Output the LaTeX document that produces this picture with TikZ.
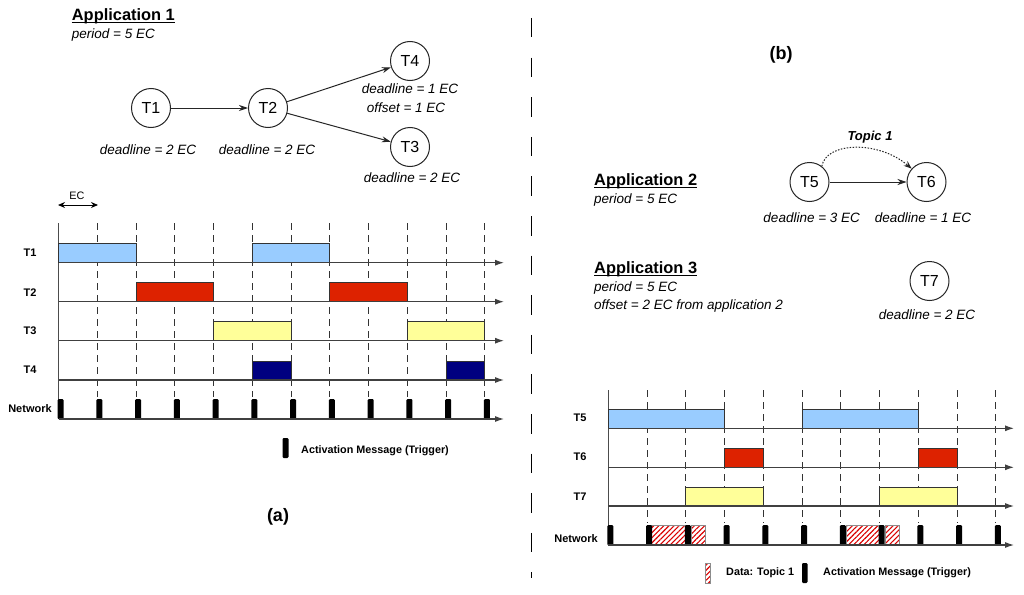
\documentclass[tikz,border=0pt]{standalone}
\usepackage{fontspec}
\setmainfont{Liberation Sans}
\usetikzlibrary{arrows.meta,patterns.meta}
\definecolor{cblue}{HTML}{99CCFF}
\definecolor{cred}{HTML}{DD2200}
\definecolor{cyel}{HTML}{FFFF99}
\definecolor{cnavy}{HTML}{000080}
\newcommand\myfs[1]{\fontsize{#1}{#1}\selectfont}
\begin{document}
\begin{tikzpicture}[x=1pt,y=-1pt,
  task/.style={circle,draw=black!85,line width=1pt,minimum size=39pt,inner sep=0pt,font=\myfs{16}},
  lbl/.style={inner sep=0pt,font=\itshape\myfs{13.5}},
  apptitle/.style={inner sep=0pt,anchor=base west,font=\bfseries\myfs{16.4}},
  uline/.style={line width=1.4pt},
  rowlbl/.style={inner sep=0pt,font=\bfseries\myfs{11}},
  legtxt/.style={inner sep=0pt,anchor=west,font=\bfseries\myfs{10.8}},
  edge/.style={line width=1pt,black!85,-{Stealth[length=9pt,width=6pt]}},
  gridl/.style={line width=1pt,black!80,dash pattern=on 7pt off 5pt},
  axisv/.style={line width=1.1pt,black!70},
  axish/.style={line width=1.1pt,black!75,-{Latex[length=9pt,width=6pt]}},
  barbox/.style={draw=black!80,line width=1pt},
  trig/.style={fill=black,rounded corners=1.2pt},
  hatch/.style={draw=black!45,line width=0.5pt,pattern={Lines[angle=45,distance=3.6pt,line width=1.1pt]},pattern color=red!85!black}
]
\useasboundingbox (0,0) rectangle (1024,594);

% ---------------- (a) Application 1 ----------------
\node[apptitle] (app1) at (71.7,20.5) {Application 1};
\draw[uline] ([yshift=-2pt]app1.base west) -- ([yshift=-2pt]app1.base east);
\node[lbl,anchor=west] (per1) at (71.7,35) {period = 5 EC};

\node[task] (T1) at (151,108) {T1};
\node[task] (T2) at (268,108) {T2};
\node[task] (T4) at (410,61) {T4};
\node[task] (T3) at (410,147) {T3};
\draw[edge] (T1) -- (T2);
\draw[edge] (T2) -- (T4);
\draw[edge] (T2) -- (T3);
\node[lbl] (d1) at (148,150) {deadline = 2 EC};
\node[lbl] (d2) at (267,150) {deadline = 2 EC};
\node[lbl] (d4) at (410,89) {deadline = 1 EC};
\node[lbl] (o4) at (406,108) {offset = 1 EC};
\node[lbl] (d3) at (412,178) {deadline = 2 EC};

% EC marker
\coordinate (eca) at (58,205);
\coordinate (ecb) at (98,205);
\draw[line width=1pt,{Stealth[length=7pt,width=6pt]}-{Stealth[length=7pt,width=6pt]}] (eca) -- (ecb);
\node[inner sep=0pt,font=\myfs{10.8}] (eclbl) at (77,196) {EC};

% left timeline
\foreach \i in {1,...,11}
  \draw[gridl] ({58.7+38.75*\i},223) -- ({58.7+38.75*\i},397);
\draw[axisv] (58.7,223) -- (58.7,419);
\foreach \a/\b/\y/\c in {0/2/262.7/cblue,5/7/262.7/cblue,
                         2/4/301.7/cred,7/9/301.7/cred,
                         4/6/340.7/cyel,9/11/340.7/cyel,
                         5/6/380/cnavy,10/11/380/cnavy}
  \draw[barbox,fill=\c] ({58.7+38.75*\a},{\y-19}) rectangle ({58.7+38.75*\b},\y);
\foreach \i in {0,...,11}
  \fill[trig] ({58.7+38.75*\i-1},399) rectangle ({58.7+38.75*\i+5},419.3);
\foreach \y in {262.7,301.7,340.7,380,419}
  \draw[axish] (58.7,\y) -- (504,\y);
\node[rowlbl] (lT1) at (30,253) {T1};
\node[rowlbl] (lT2) at (30,292.5) {T2};
\node[rowlbl] (lT3) at (30,330.5) {T3};
\node[rowlbl] (lT4) at (30,370) {T4};
\node[rowlbl] (lNa) at (30,409) {Network};

% legend (a)
\fill[trig] (282.5,438) rectangle (288.5,458);
\node[legtxt] (leg1) at (301,451) {Activation Message (Trigger)};
\node[inner sep=0pt,font=\bfseries\myfs{18}] (capa) at (278,517) {(a)};

% divider
\draw[line width=1.1pt,dash pattern=on 19.5pt off 20.1pt] (531.5,18) -- (531.5,578);

% ---------------- (b) ----------------
\node[inner sep=0pt,font=\bfseries\myfs{18}] (capb) at (781,55) {(b)};

\node[apptitle] (app2) at (594,185) {Application 2};
\draw[uline] ([yshift=-2.5pt]app2.base west) -- ([yshift=-2.5pt]app2.base east);
\node[lbl,anchor=west] (per2) at (594,200) {period = 5 EC};

\node[apptitle] (app3) at (594,273) {Application 3\ };
\draw[uline] ([yshift=-2.5pt]app3.base west) -- ([yshift=-2.5pt]app3.base east);
\node[lbl,anchor=west] (per3) at (594,288) {period = 5 EC};
\node[lbl,anchor=west] (off3) at (594,306) {offset = 2 EC from application 2};

\node[task] (T5) at (809.5,182) {T5};
\node[task] (T6) at (926.5,182) {T6};
\node[task] (T7) at (929.5,281) {T7};
\draw[edge] (T5) -- (T6);
\draw[line width=1pt,black!85,dash pattern=on 1.5pt off 1.5pt,-{Stealth[length=8pt,width=6pt]}]
  (T5.52) .. controls (826,142) and (878,140) .. (T6.138);
\node[inner sep=0pt,font=\bfseries\itshape\myfs{13}] (top1) at (870,137) {Topic 1};
\node[lbl] (d5) at (811.7,218) {deadline = 3 EC};
\node[lbl] (d6) at (923,218) {deadline = 1 EC};
\node[lbl] (d7) at (927,315) {deadline = 2 EC};

% right timeline
\foreach \j in {1,...,10}
  \draw[gridl] ({608.3+38.75*\j},390) -- ({608.3+38.75*\j},523);
\draw[axisv] (608.3,390) -- (608.3,545);
\foreach \a/\b/\y/\c in {0/3/428.3/cblue,5/8/428.3/cblue,
                         3/4/467.3/cred,8/9/467.3/cred,
                         2/4/506/cyel,7/9/506/cyel}
  \draw[barbox,fill=\c] ({608.3+38.75*\a},{\y-19}) rectangle ({608.3+38.75*\b},\y);
\draw[hatch] (651.7,525.5) rectangle (685.7,545);
\draw[hatch] (691.2,525.5) rectangle (705.7,545);
\draw[hatch] (846,525.5) rectangle (880,545);
\draw[hatch] (885.5,525.5) rectangle (899,545);
\foreach \j in {0,...,10}
  \fill[trig] ({608.3+38.75*\j-1},525) rectangle ({608.3+38.75*\j+5},545.3);
\foreach \y in {428.3,467.3,506,545}
  \draw[axish] (608.3,\y) -- (1014,\y);
\node[rowlbl] (lT5) at (580,418) {T5};
\node[rowlbl] (lT6) at (580,457) {T6};
\node[rowlbl] (lT7) at (580,496.5) {T7};
\node[rowlbl] (lNb) at (576,539) {Network};

% legend (b)
\draw[hatch] (705,563) rectangle (710.5,583);
\node[legtxt] (leg2) at (726,573) {Data: Topic 1};
\fill[trig] (802,563) rectangle (807.5,583);
\node[legtxt] (leg3) at (823,573) {Activation Message (Trigger)};
\end{tikzpicture}
\end{document}
